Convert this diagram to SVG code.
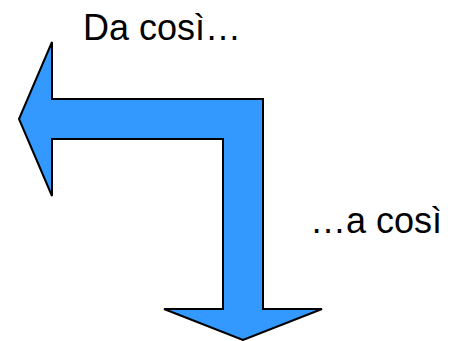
<svg xmlns="http://www.w3.org/2000/svg" width="452" height="341" viewBox="0 0 452 341">
<style>
.arrow{fill:#3399ff;stroke:#000;stroke-width:2;stroke-linejoin:miter}
.lbl{font-family:"Liberation Sans",Arial,sans-serif;font-size:36px;fill:#000}
</style>
<rect width="452" height="341" fill="#fff"/>
<g id="connectors">
<path class="arrow" d="M19,119 L52,42 L52,99 L263,99 L263,309 L322,309 L243,340 L164,309 L223,309 L223,139 L52,139 L52,196 Z"/>
</g>
<g id="label-from"><text class="lbl" x="83" y="40">Da così…</text></g>
<g id="label-to"><text class="lbl" x="310" y="233">…a così</text></g>
</svg>
